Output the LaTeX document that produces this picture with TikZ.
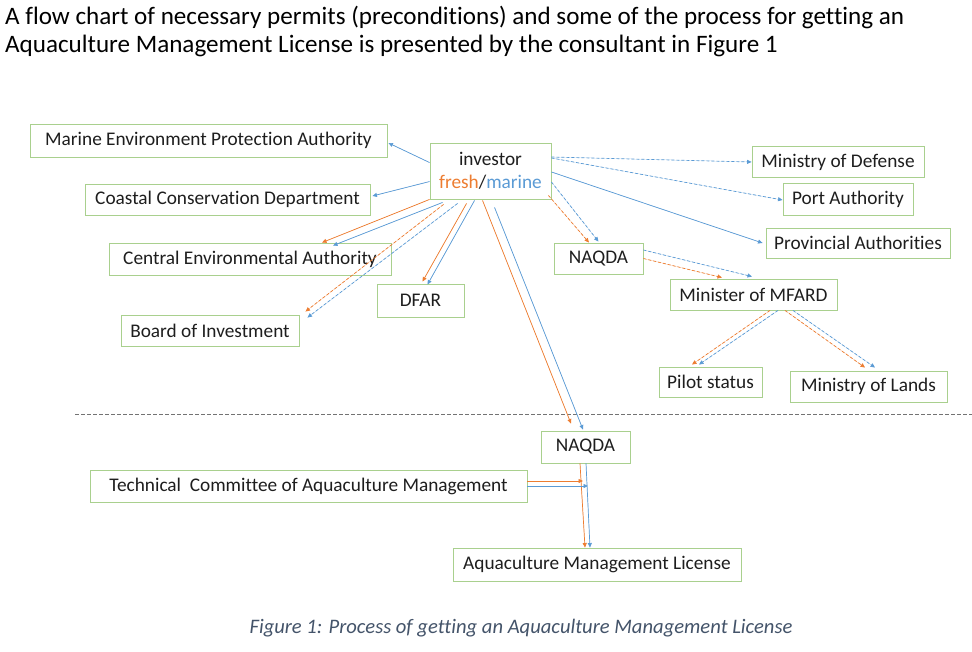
\documentclass[tikz,border=0pt]{standalone}
\usepackage{fontspec}
\setmainfont{Carlito}[Ligatures=NoCommon]
\usetikzlibrary{arrows.meta}
\definecolor{orng}{HTML}{ED7D31}
\definecolor{blu}{HTML}{5B9BD5}
\definecolor{bgreen}{HTML}{A9D08E}
\definecolor{capc}{HTML}{44546A}
\definecolor{txt}{HTML}{1E1E1E}
\begin{document}
\begin{tikzpicture}[x=1pt,y=-1pt,
  box/.style={draw=bgreen,line width=0.9pt,inner sep=0pt,align=center,text=txt,font=\fontsize{19.3}{22}\selectfont},
  conn/.style={line width=0.7pt,-{Triangle[length=4.5pt,width=4pt]}},
  oc/.style={conn,draw=orng,fill=orng},
  bc/.style={conn,draw=blu,fill=blu},
  dsh/.style={dash pattern=on 3pt off 2pt}
]
\useasboundingbox[fill=white] (0,0) rectangle (972,652);

% heading
\node[anchor=base west,inner sep=0pt,font=\fontsize{25.1}{30}\selectfont] (h1) at (5,25) {A flow chart of necessary permits (preconditions) and some of the process for getting an};
\node[anchor=base west,inner sep=0pt,font=\fontsize{25.1}{30}\selectfont] (h2) at (5,53) {Aquaculture Management License is presented by the consultant in Figure 1};

% boxes
\node[box,minimum width=357pt,minimum height=33pt] (mepa) at (208.5,140.5) {Marine Environment Protection Authority};
\node[box,minimum width=121pt,minimum height=56pt,font=\fontsize{19.3}{23}\selectfont] (inv) at (490.5,171) {investor\\{\color{orng}fresh}/{\color{blu}marine}};
\node[box,minimum width=285pt,minimum height=31pt] (ccd) at (227.5,199.5) {Coastal Conservation Department};
\node[box,minimum width=282pt,minimum height=32pt] (cea) at (250,259) {Central Environmental Authority};
\node[box,minimum width=87pt,minimum height=33pt] (dfar) at (420.5,300.5) {DFAR};
\node[box,minimum width=178pt,minimum height=31pt] (boi) at (210,330.5) {Board of Investment};
\node[box,minimum width=172pt,minimum height=31pt] (mod) at (838,162) {Ministry of Defense};
\node[box,minimum width=130pt,minimum height=32pt] (pa) at (848,199) {Port Authority};
\node[box,minimum width=184pt,minimum height=30pt] (prov) at (858,243) {Provincial Authorities};
\node[box,minimum width=89pt,minimum height=31pt] (naqa) at (598.5,258.5) {NAQDA};
\node[box,minimum width=167pt,minimum height=31pt] (mfard) at (753.5,294.5) {Minister of MFARD};
\node[box,minimum width=103pt,minimum height=30pt] (pilot) at (710.5,382) {Pilot status};
\node[box,minimum width=157pt,minimum height=31pt] (lands) at (868.5,386.5) {Ministry of Lands};
\node[box,minimum width=89pt,minimum height=32pt] (naqb) at (585.5,447) {NAQDA};
\node[box,minimum width=437pt,minimum height=32pt] (tc) at (308.5,486) {Technical\ \ Committee of Aquaculture Management};
\node[box,minimum width=288pt,minimum height=33pt] (aml) at (597,564.5) {Aquaculture Management License};

% separator
\coordinate (sepL) at (75,414);
\coordinate (sepR) at (972,414);
\draw[draw=black!55,line width=0.9pt,dash pattern=on 4pt off 2pt] (sepL) -- (sepR);

% caption
\node[inner sep=0pt,font=\fontsize{20.6}{24}\selectfont\itshape,text=capc] (cap) at (521,628) {Figure 1: Process of getting an Aquaculture Management License};

% connectors from investor
\draw[bc] ([yshift=-20pt]inv.north west) -- ([xshift=1pt,yshift=-2.5pt]mepa.east);
\draw[bc] ([yshift=-39pt]inv.north west) -- ([xshift=2pt,yshift=3.5pt]ccd.east);
\draw[oc] (inv.south west) -- ([xshift=72pt]cea.north);
\draw[bc] ([xshift=13pt,yshift=-3pt]inv.south west) -- ([xshift=83pt,yshift=-3pt]cea.north);
\draw[oc,dsh] ([xshift=14pt,yshift=-5pt]inv.south west) -- ([xshift=6pt,yshift=3pt]boi.north east);
\draw[bc,dsh] ([xshift=28pt,yshift=-4pt]inv.south west) -- ([xshift=8pt,yshift=-3pt]boi.north east);
\draw[oc] ([xshift=37pt,yshift=-4pt]inv.south west) -- ([xshift=2pt,yshift=2pt]dfar.north);
\draw[bc] ([xshift=45pt,yshift=-1pt]inv.south west) -- ([xshift=7pt,yshift=-1pt]dfar.north);
\draw[oc] ([xshift=53pt,yshift=-1pt]inv.south west) -- ([xshift=-14.5pt,yshift=7pt]naqb.north);
\draw[bc] ([xshift=65pt,yshift=-8pt]inv.south west) -- ([xshift=-2.5pt,yshift=1pt]naqb.north);
\draw[oc,dsh] ([xshift=-3pt,yshift=4pt]inv.south east) -- ([xshift=-9.5pt]naqa.north);
\draw[bc,dsh] ([yshift=-11pt]inv.east) -- ([yshift=1pt]naqa.north);
\draw[bc,dsh] ([yshift=14pt]inv.east) -- (mod.west);
\draw[bc,dsh] ([yshift=13pt]inv.east) -- ([yshift=-1pt]pa.west);
\draw[bc] ([yshift=-1pt]inv.east) -- ([xshift=-3pt]prov.west);

% NAQDA -> MFARD
\draw[oc,dsh] (naqa.east) -- ([xshift=-31.5pt,yshift=1pt]mfard.north);
\draw[bc,dsh] ([yshift=8.5pt]naqa.east) -- ([xshift=-1.5pt,yshift=2pt]mfard.north);

% MFARD -> Pilot, Lands
\draw[oc,dsh] ([xshift=16.5pt]mfard.south) -- ([xshift=-18.5pt,yshift=2pt]pilot.north);
\draw[bc,dsh] ([xshift=24.5pt]mfard.south) -- ([xshift=-11.5pt,yshift=2pt]pilot.north);
\draw[oc,dsh] ([xshift=31.5pt]mfard.south) -- ([xshift=-3.5pt,yshift=3pt]lands.north);
\draw[bc,dsh] ([xshift=39.5pt]mfard.south) -- ([xshift=6.5pt,yshift=3pt]lands.north);

% NAQDA -> License, Technical Committee
\draw[oc] ([xshift=-5.5pt]naqb.south) -- ([xshift=-12pt]aml.north);
\draw[bc] ([xshift=0.5pt]naqb.south) -- ([xshift=-7pt]aml.north);
\coordinate (jo) at (583,481);
\coordinate (jb) at (588,486);
\draw[oc] ([yshift=5pt]tc.east) -- (jo);
\draw[bc] (tc.east) -- (jb);
\end{tikzpicture}
\end{document}
